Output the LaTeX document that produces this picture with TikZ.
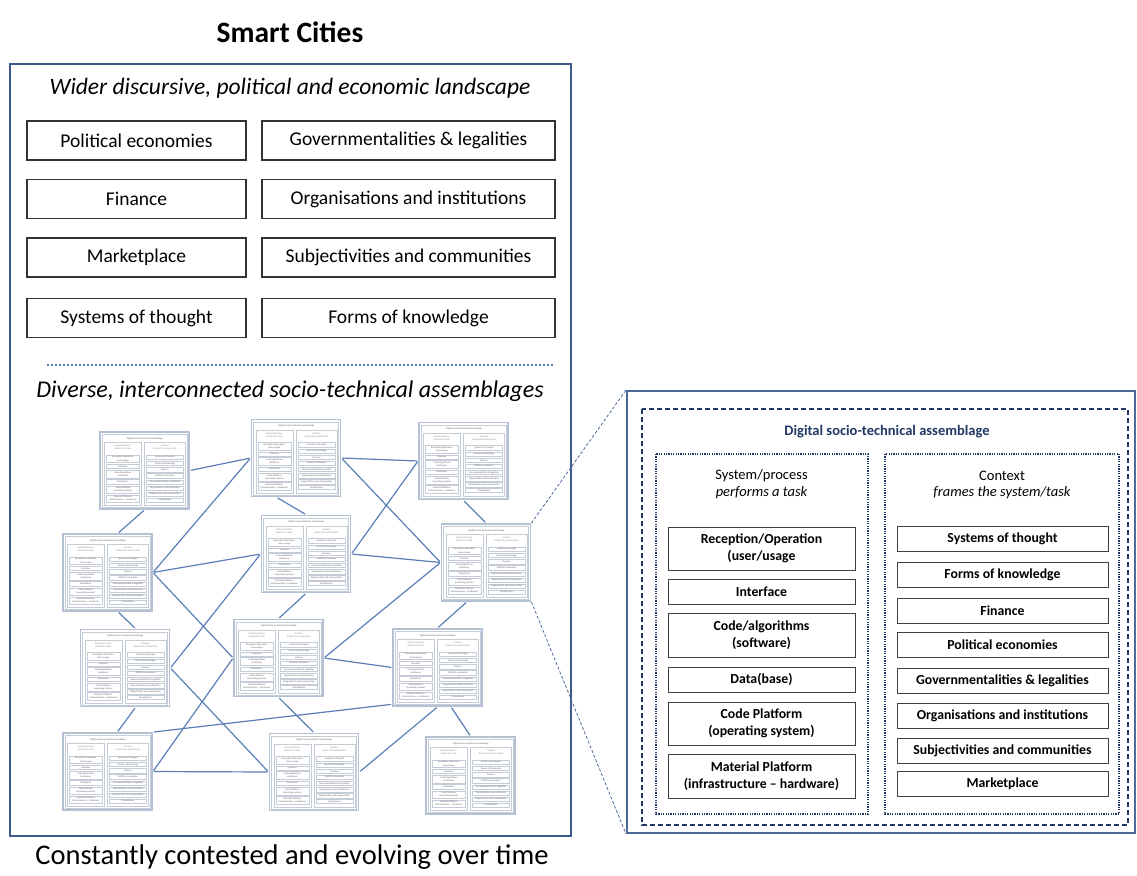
\documentclass[tikz,border=0pt]{standalone}
\usepackage{fontspec}
\setmainfont{Carlito}
\usetikzlibrary{calc}
\definecolor{frameblue}{HTML}{3D5B8C}
\definecolor{panelblue}{HTML}{4A6A9B}
\definecolor{navy}{HTML}{1F3864}
\definecolor{connblue}{HTML}{5B7DB8}
\definecolor{sepblue}{HTML}{4F81BD}
\definecolor{thumbedge}{HTML}{B4C0D3}
\definecolor{thumbline}{HTML}{C4CCD8}
\colorlet{pdash}{navy}
\colorlet{pdot}{navy}
\colorlet{pbox}{black!75}
\colorlet{ptext}{black}
\colorlet{ptitle}{navy}
\def\plw{1pt}
\tikzset{
  topbox/.style={draw=black!80, line width=1.2pt, minimum height=39pt, inner sep=0pt, font=\fontsize{19.5}{23}\selectfont},
  pdashstyle/.style={draw=pdash, line width=1.3pt, dash pattern=on 5pt off 3pt},
  pdotstyle/.style={draw=pdot, line width=1.3pt, dash pattern=on 1.2pt off 1.2pt},
  ptitlestyle/.style={text=ptitle, font=\bfseries\fontsize{14.5}{17}\selectfont, inner sep=0pt},
  phead/.style={text=ptext, font=\fontsize{14.5}{17}\selectfont, inner sep=0pt},
  pheadit/.style={text=ptext, font=\itshape\fontsize{14.5}{17}\selectfont, inner sep=0pt},
  pboxL/.style={draw=pbox, line width=\plw, minimum width=187pt, align=center, text=ptext, font=\bfseries\fontsize{13.8}{17.5}\selectfont, inner sep=0pt},
  pboxR/.style={pboxL, minimum width=211pt},
  thumb/.style={draw=thumbedge, line width=1.8pt, fill=white, minimum width=89pt, minimum height=77pt, inner sep=0pt},
  conn/.style={draw=connblue, line width=1.2pt, shorten <=1pt, shorten >=1pt},
  zoomline/.style={draw=panelblue, line width=0.8pt, dash pattern=on 3pt off 2pt},
}
\newcommand\panelcontent{%
  \draw[pdashstyle] (16,19) rectangle (502,435);
  \node[ptitlestyle] (title) at (261,42) {Digital socio-technical assemblage};
  \draw[pdotstyle] (30,64) rectangle (242,424);
  \draw[pdotstyle] (259,64) rectangle (493,424);
  \node[phead] (sys) at (135.5,86) {System/process};
  \node[pheadit] (sysd) at (135.5,103) {performs a task};
  \node[phead] (ctx) at (376,86) {Context};
  \node[pheadit] (ctxd) at (376,103) {frames the system/task};
  \node[pboxL, minimum height=43pt] (l1) at (135.5,158.5) {Reception/Operation\\(user/usage};
  \node[pboxL, minimum height=25pt] (l2) at (135.5,201.5) {Interface};
  \node[pboxL, minimum height=44pt] (l3) at (135.5,245) {Code/algorithms\\(software)};
  \node[pboxL, minimum height=25pt] (l4) at (135.5,289.5) {Data(base)};
  \node[pboxL, minimum height=43pt] (l5) at (135.5,333.5) {Code Platform\\(operating system)};
  \node[pboxL, minimum height=44pt] (l6) at (135.5,386) {Material Platform\\(infrastructure – hardware)};
  \node[pboxR, minimum height=25pt] (r1) at (376.5,148.5) {Systems of thought};
  \node[pboxR, minimum height=25pt] (r2) at (376.5,184.5) {Forms of knowledge};
  \node[pboxR, minimum height=25pt] (r3) at (376.5,220.5) {Finance};
  \node[pboxR, minimum height=25pt] (r4) at (376.5,254.5) {Political economies};
  \node[pboxR, minimum height=25pt] (r5) at (376.5,290.5) {Governmentalities \& legalities};
  \node[pboxR, minimum height=25pt] (r6) at (376.5,325.5) {Organisations and institutions};
  \node[pboxR, minimum height=25pt] (r7) at (376.5,361) {Subjectivities and communities};
  \node[pboxR, minimum height=25pt] (r8) at (376.5,393.5) {Marketplace};
}
\newcommand\thumbat[3]{%
  \node[thumb] (#1) at (#2,#3) {};
  \begin{scope}[shift={(#1.north west)}, scale=0.175, transform shape, name prefix=#1-]
    \colorlet{pdash}{thumbline}\colorlet{pdot}{thumbline}\colorlet{pbox}{thumbline}
    \colorlet{ptext}{black!45}\colorlet{ptitle}{black!45}
    \def\plw{0.35pt}
    \tikzset{pdashstyle/.style={draw=pdash, line width=0.45pt},
             pdotstyle/.style={draw=pdot, line width=0.35pt}}
    \panelcontent
  \end{scope}
}
\begin{document}
\begin{tikzpicture}[x=1pt,y=-1pt]
\useasboundingbox (0,0) rectangle (1137,875);
% left: smart cities
\node[font=\bfseries\fontsize{29.5}{33}\selectfont] (maintitle) at (290,32) {Smart Cities};
\node[draw=frameblue, line width=2.5pt, minimum width=561pt, minimum height=772pt, inner sep=0pt] (city) at (290.5,450) {};
\node[font=\itshape\fontsize{23.5}{27}\selectfont] (wider) at (290,88) {Wider discursive, political and economic landscape};
\node[topbox, minimum width=219pt] (a1) at (136.5,140.5) {Political economies};
\node[topbox, minimum width=293pt] (b1) at (408.5,140.5) {Governmentalities \& legalities};
\node[topbox, minimum width=219pt] (a2) at (136.5,199) {Finance};
\node[topbox, minimum width=293pt] (b2) at (408.5,199) {Organisations and institutions};
\node[topbox, minimum width=219pt] (a3) at (136.5,257.5) {Marketplace};
\node[topbox, minimum width=293pt] (b3) at (408.5,257.5) {Subjectivities and communities};
\node[topbox, minimum width=219pt] (a4) at (136.5,318) {Systems of thought};
\node[topbox, minimum width=293pt] (b4) at (408.5,318) {Forms of knowledge};
\draw[draw=sepblue, line width=2pt, dash pattern=on 2pt off 2pt] (47,365) -- (553,365);
\node[font=\itshape\fontsize{24}{28}\selectfont] (diverse) at (290,391) {Diverse, interconnected socio-technical assemblages};
\node[font=\fontsize{28.5}{32}\selectfont] (contested) at (292,857) {Constantly contested and evolving over time};
% thumbnails
\thumbat{T1}{144.5}{470.5}
\thumbat{T2}{296}{458}
\thumbat{T3}{463.5}{461}
\thumbat{T4}{306}{554}
\thumbat{T5}{107.5}{572.5}
\thumbat{T6}{486}{562.5}
\thumbat{T7}{125}{668}
\thumbat{T8}{278.5}{658}
\thumbat{T9}{107.5}{771.5}
\thumbat{T10}{437.5}{667.5}
\thumbat{T11}{314}{772}
\thumbat{T12}{470.5}{775.5}
% connectors
\draw[conn] (T1.east) -- (T2.west);
\draw[conn] (T1.south) -- (T5.75);
\draw[conn] (T2.west) -- (T5.east);
\draw[conn] (T5.east) -- (T4.west);
\draw[conn] (T5.east) -- (T8.west);
\draw[conn] (T8.west) -- (T9.east);
\draw[conn] (T4.west) -- (T7.east);
\draw[conn] (T7.east) -- (T11.west);
\draw[conn] (T9.east) -- (T11.west);
\draw[conn] (T2.244) -- (T4.north);
\draw[conn] (T2.east) -- (T3.west);
\draw[conn] (T2.east) -- (T6.west);
\draw[conn] (T3.west) -- (T4.east);
\draw[conn] (T4.east) -- (T6.west);
\draw[conn] (T8.east) -- (T6.west);
\draw[conn] (T8.east) -- (T10.west);
\draw[conn] (T3.south) -- (T6.north);
\draw[conn] (T6.244) -- (T10.north);
\draw[conn] (T4.south) -- (T8.north);
\draw[conn] (T5.285) -- (T7.75);
\draw[conn] (T7.285) -- (T9.76);
\draw[conn] (T9.north east) -- (T10.219);
\draw[conn] (T8.south) -- (T11.north);
\draw[conn] (T10.south) -- (T11.east);
\draw[conn] (T10.289) -- (T12.north);
% right panel
\node[draw=panelblue, line width=2pt, minimum width=508pt, minimum height=442pt, inner sep=0pt] (panel) at (881,612) {};
\begin{scope}[shift={(panel.north west)}, name prefix=P-]
  \panelcontent
\end{scope}
\draw[zoomline] (T6.north east) -- (panel.north west);
\draw[zoomline] (T6.south east) -- (panel.south west);
\end{tikzpicture}
\end{document}
